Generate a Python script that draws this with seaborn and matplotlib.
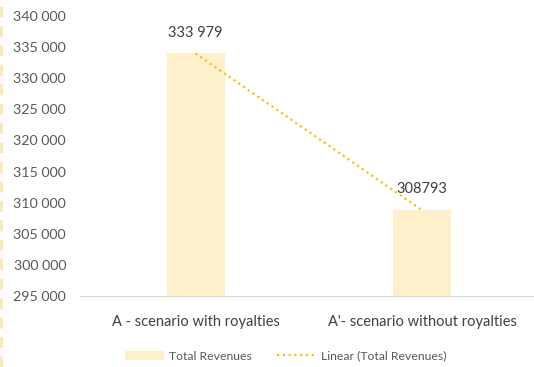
import matplotlib
matplotlib.use("Agg")
import matplotlib.pyplot as plt
import seaborn as sns
import pandas as pd
from matplotlib.lines import Line2D
from matplotlib.patches import Patch

categories = ["A - scenario with royalties", "A'- scenario without royalties"]
revenues = [333979, 308793]
value_labels = ["333 979", "308793"]
yticks = list(range(295000, 340001, 5000))

sns.set_theme(style="white")
plt.rcParams['font.family'] = ['Lato', 'DejaVu Sans']

df = pd.DataFrame({"cat": categories, "rev": revenues})

fig = plt.figure(figsize=(5.34, 3.67), dpi=100)
ax = fig.add_axes([80/534, 1-296/367, 453/534, 280/367])

bar_color = "#FFF0CC"
sns.barplot(data=df, x="cat", y="rev", ax=ax, color=bar_color, width=0.256,
            saturation=1, edgecolor="none")
ax.set_ylim(295000, 340000)
ax.set_xlim(-0.51, 1.49)
ax.set_yticks(yticks)
ax.set_yticklabels([f"{v:,}".replace(",", " ") for v in yticks])
ax.set_xlabel("")
ax.set_ylabel("")
for s in ["top", "right", "left"]:
    ax.spines[s].set_visible(False)
ax.spines["bottom"].set_color("#D9D9D9")
ax.spines["bottom"].set_linewidth(0.8)
ax.tick_params(axis="y", length=0, labelsize=10.3, labelcolor="#595959", pad=10)
ax.tick_params(axis="x", length=0, labelsize=10.5, labelcolor="#404040", pad=14)

# trend line
ax.plot([0, 1], revenues, linestyle=(0, (1, 1.6)), color="#FFC000", linewidth=1.6)

for i, (v, lab) in enumerate(zip(revenues, value_labels)):
    ax.annotate(lab, (i, v), xytext=(0, 10), textcoords="offset points",
                ha="center", va="bottom", fontsize=10.5, color="#404040")

handles = [Patch(facecolor=bar_color, edgecolor="none", label="Total Revenues"),
           Line2D([0], [0], linestyle=(0, (1, 1.6)), color="#FFC000", linewidth=1.6,
                  label="Linear (Total Revenues)")]
fig.legend(handles=handles, loc="center", bbox_to_anchor=(0.535, 1-356/367), ncol=2,
           frameon=False, fontsize=8.8, labelcolor="#595959", handlelength=3.2,
           handletextpad=0.4, columnspacing=2.0, handleheight=0.8)

# dashed left border
fig.add_artist(Line2D([1/534, 1/534], [0, 1], transform=fig.transFigure,
                      color="#FCE9B2", linestyle=(0, (4, 3)), linewidth=2))

fig.savefig("out.png", dpi=100)
